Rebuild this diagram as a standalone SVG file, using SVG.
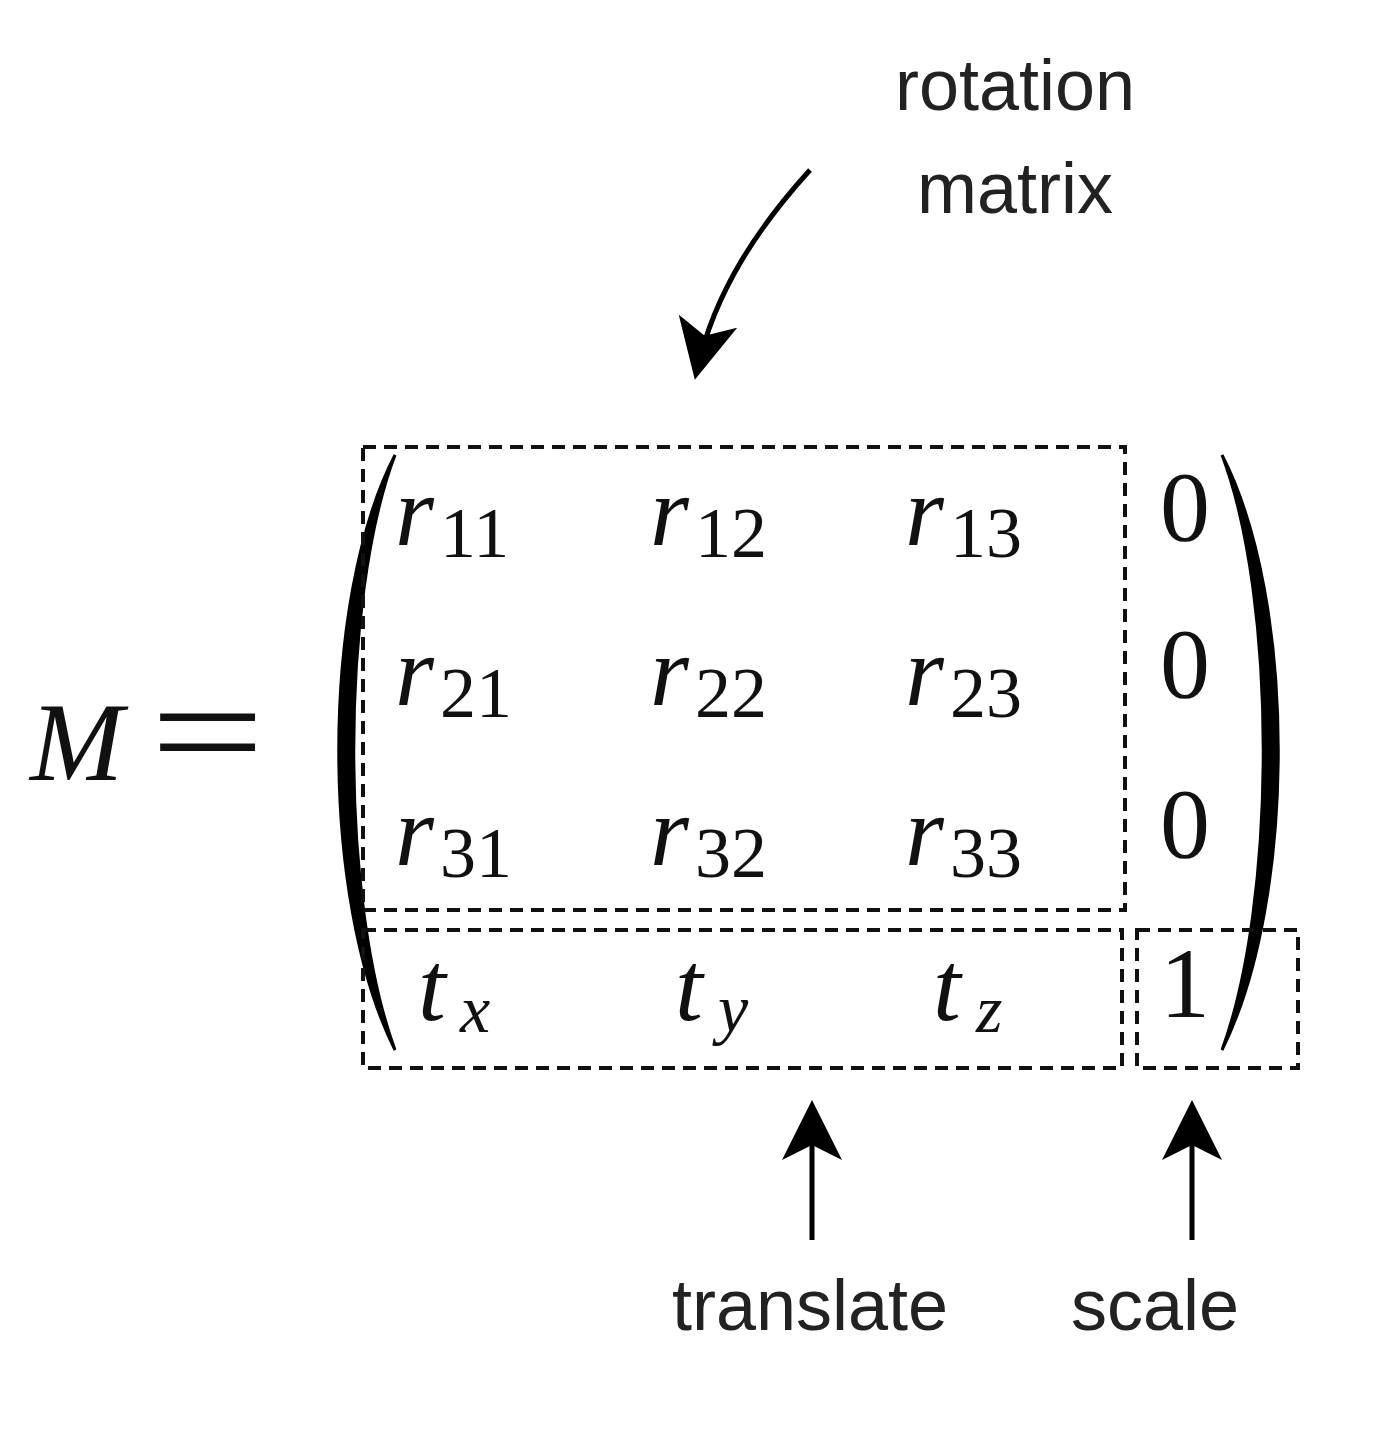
<svg xmlns="http://www.w3.org/2000/svg" width="1398" height="1439" viewBox="0 0 1398 1439">
<style>
.m{font-family:"Liberation Serif","DejaVu Serif",serif;font-style:italic;fill:#111}
.n{font-family:"Liberation Serif","DejaVu Serif",serif;fill:#111}
.s{font-family:"Liberation Sans",Arial,sans-serif;font-size:72px;fill:#222;text-anchor:middle}
.box{fill:none;stroke:#111;stroke-width:4;stroke-dasharray:13 8}
.ar{fill:none;stroke:#000;stroke-width:5}
</style>
<defs>
<marker id="a" viewBox="0 0 12 12" refX="10" refY="6" markerWidth="60" markerHeight="60" markerUnits="userSpaceOnUse" orient="auto"><path d="M0,0 L12,6 L0,12 L3,6 Z" fill="#000"/></marker></defs>
<g id="eq">
<text class="m" x="30" y="780" font-size="112">M</text>
<text class="n" x="150" y="782" font-size="150" textLength="115" lengthAdjust="spacingAndGlyphs">=</text>
<path d="M395,455 C320,600 320,900 395,1050 C340,900 340,600 395,455 Z" fill="#000" stroke="#000" stroke-width="3"/>
<path d="M1222,455 C1297,600 1297,900 1222,1050 C1277,900 1277,600 1222,455 Z" fill="#000" stroke="#000" stroke-width="3"/>
<g class="m" font-size="100">
<text x="395" y="545">r</text><text x="650" y="545">r</text><text x="905" y="545">r</text>
<text x="395" y="705">r</text><text x="650" y="705">r</text><text x="905" y="705">r</text>
<text x="395" y="865">r</text><text x="650" y="865">r</text><text x="905" y="865">r</text>
<text x="418" y="1020">t</text><text x="675" y="1020">t</text><text x="933" y="1020">t</text>
</g>
<g class="n" font-size="72">
<text x="440" y="557">11</text><text x="695" y="557">12</text><text x="950" y="557">13</text>
<text x="440" y="717">21</text><text x="695" y="717">22</text><text x="950" y="717">23</text>
<text x="440" y="877">31</text><text x="695" y="877">32</text><text x="950" y="877">33</text>
</g>
<g class="m" font-size="68"><text x="460" y="1032">x</text><text x="718" y="1032">y</text><text x="976" y="1032">z</text></g>
<g class="n" font-size="100"><text x="1160" y="540">0</text><text x="1160" y="697">0</text><text x="1160" y="857">0</text><text x="1160" y="1017">1</text></g>
</g>
<g id="boxes">
<rect class="box" x="363" y="447" width="762" height="463"/>
<rect class="box" x="363" y="930" width="759" height="138"/>
<rect class="box" x="1137" y="930" width="161" height="138"/>
</g>
<g id="connectors">
<path class="ar" d="M810,170 C760,225 715,290 697,370" marker-end="url(#a)"/>
<path class="ar" d="M812,1240 L812,1110" marker-end="url(#a)"/>
<path class="ar" d="M1192,1240 L1192,1110" marker-end="url(#a)"/>
</g>
<g id="labels">
<text class="s" x="1015" y="110">rotation</text>
<text class="s" x="1015" y="213">matrix</text>
<text class="s" x="810" y="1330">translate</text>
<text class="s" x="1155" y="1330">scale</text>
</g>
</svg>
